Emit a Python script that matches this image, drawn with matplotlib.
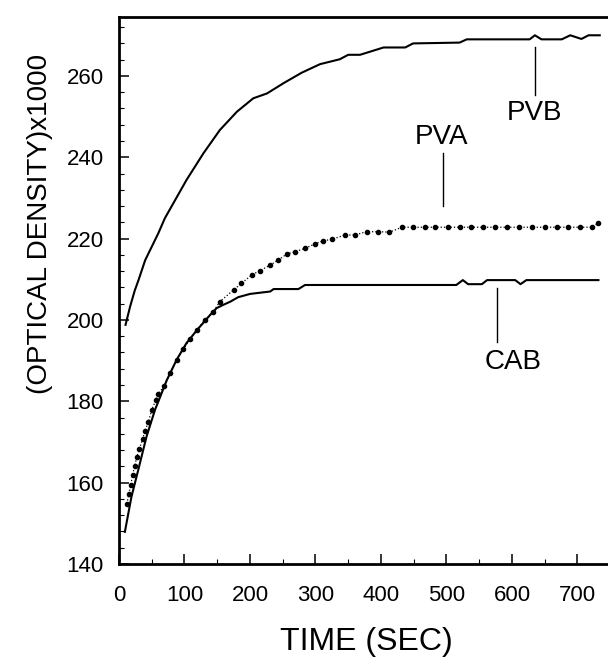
import matplotlib
matplotlib.use("Agg")
import matplotlib.pyplot as plt
from matplotlib.ticker import MultipleLocator

plt.rcParams['font.family'] = ['Liberation Sans', 'DejaVu Sans']

# values (time in s, optical density x1000)
pvb_t = [10, 17, 24, 30, 40, 50, 60, 70, 83, 103, 129, 154, 180, 205, 226,
         251, 279, 307, 337, 350, 368, 404, 437, 449, 520, 531, 627, 635,
         645, 676, 689, 706, 717, 734]
pvb_od = [198.8, 203.3, 207.2, 209.9, 214.7, 218.0, 221.3, 225.0, 228.7,
          234.4, 241.0, 246.7, 251.2, 254.5, 255.7, 258.2, 260.8, 262.9,
          264.1, 265.2, 265.2, 267.0, 267.0, 268.0, 268.2, 269.0, 269.0,
          270.0, 269.0, 269.0, 270.0, 269.1, 270.0, 270.0]

# PVA: one entry per plotted dot
pva_t = [12, 15, 18, 21, 24, 27, 31, 36, 40, 45, 50, 56, 60, 69, 78, 88, 98,
         108, 119, 131, 144, 154, 175, 187, 203, 215, 231, 243, 256, 269,
         284, 299, 312, 325, 345, 360, 378, 396, 413, 432, 449, 467, 482,
         503, 521, 538, 556, 574, 592, 611, 630, 650, 668, 686, 704, 722,
         732]
pva_od = [154.8, 157.2, 159.4, 162.0, 164.1, 166.2, 168.2, 170.7, 172.8,
          175.0, 177.9, 180.2, 181.8, 183.8, 186.9, 190.2, 192.8, 195.2,
          197.5, 200.0, 202.0, 204.5, 207.4, 209.0, 211.1, 212.1, 213.5,
          214.7, 216.2, 216.8, 217.6, 218.7, 219.5, 219.8, 220.9, 220.9,
          221.7, 221.7, 221.6, 222.8, 222.8, 222.8, 222.8, 222.8, 222.8,
          222.8, 222.8, 222.8, 222.8, 222.8, 222.8, 222.8, 222.8, 222.8,
          222.8, 222.8, 223.8]

cab_t = [9, 19, 30, 42, 55, 73, 88, 103, 119, 139, 149, 159, 170, 182, 200,
         231, 236, 274, 284, 368, 515, 525, 533, 554, 562, 605, 613, 622,
         732]
cab_od = [147.9, 156.5, 163.5, 171.3, 177.9, 185.2, 190.2, 194.3, 197.5,
          201.2, 202.9, 203.7, 204.5, 205.6, 206.4, 207.0, 207.6, 207.6,
          208.6, 208.6, 208.6, 209.8, 208.8, 208.8, 209.8, 209.8, 208.8,
          209.8, 209.8]

labels = ['PVB', 'PVA', 'CAB']
label_xy = [(635, 251.0), (492, 245.0), (601, 189.7)]
leader_x = [635, 495, 577]
leader_y = [(255.3, 267.1), (227.9, 241.0), (194.7, 207.9)]

fig = plt.figure(figsize=(6.08, 6.58), dpi=100)
ax = fig.add_axes([0.1957, 0.1429, 1.0 - 0.1957, 0.9742 - 0.1429])

ax.plot(pvb_t, pvb_od, color='black', lw=1.5)
ax.plot(cab_t, cab_od, color='black', lw=1.5)
ax.plot(pva_t, pva_od, color='black', lw=0.9, ls=':', marker='o', ms=3.0)

for lab, (tx, ty), lx, (y0, y1) in zip(labels, label_xy, leader_x, leader_y):
    ax.plot([lx, lx], [y0, y1], color='black', lw=1.0)
    ax.text(tx, ty, lab, fontsize=20, ha='center', va='center')

ax.set_xlim(0, 746.6)
ax.set_ylim(140, 274.5)
ax.xaxis.set_major_locator(MultipleLocator(100))
ax.xaxis.set_minor_locator(MultipleLocator(50))
ax.yaxis.set_major_locator(MultipleLocator(20))
ax.yaxis.set_minor_locator(MultipleLocator(4))

ax.spines['right'].set_visible(False)
for s in ['left', 'bottom', 'top']:
    ax.spines[s].set_linewidth(2.0)

ax.tick_params(which='major', direction='in', length=7, width=1.1,
               labelsize=16)
ax.tick_params(which='minor', direction='in', length=3.5, width=0.8)
ax.tick_params(axis='y', which='major', pad=11)
ax.tick_params(axis='x', which='major', pad=15)
ax.tick_params(axis='x', which='both', top=False)

fig.text(0.602, 1 - 642 / 658, 'TIME (SEC)', fontsize=23, ha='center',
         va='center')
fig.text(40 / 608, 1 - 224 / 658, '(OPTICAL DENSITY)x1000', fontsize=20,
         rotation=90, ha='center', va='center')

fig.savefig('out.png', dpi=100)
